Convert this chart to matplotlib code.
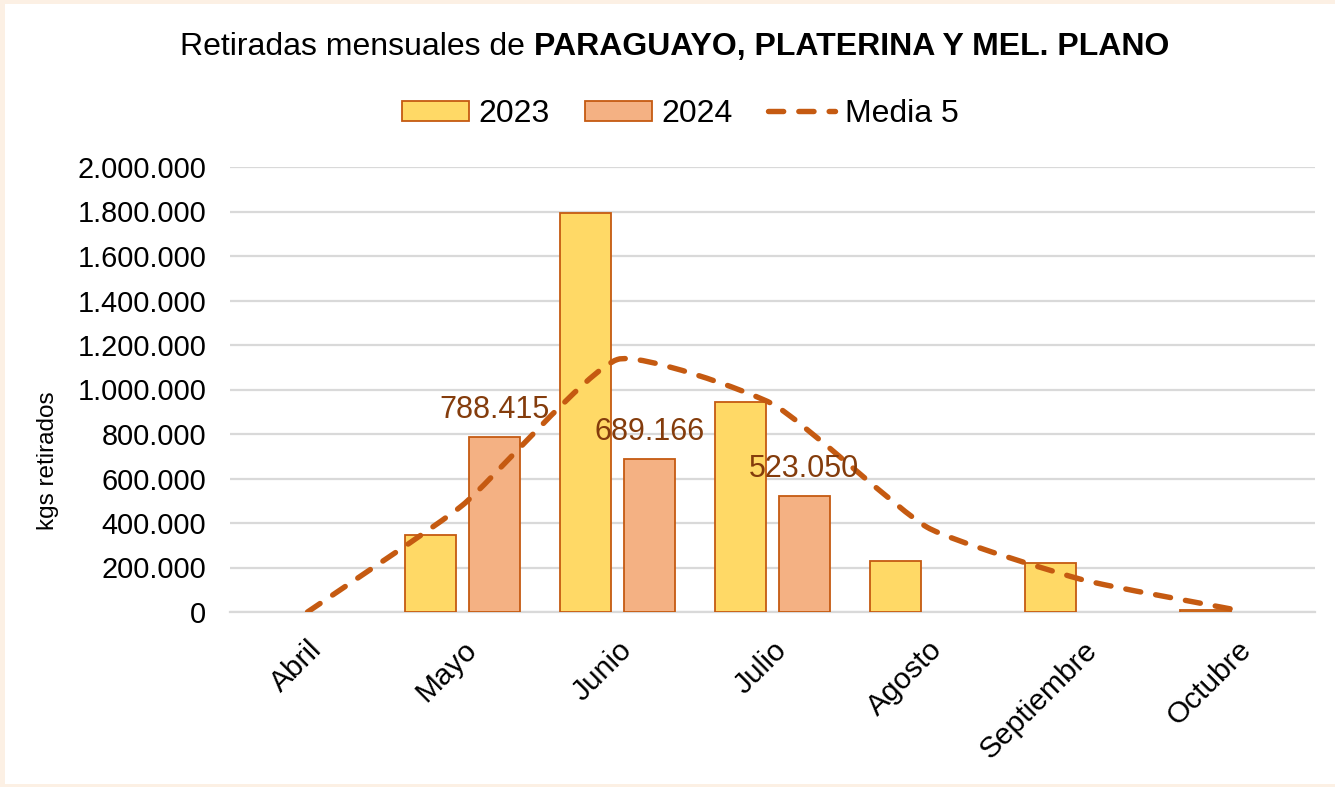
import matplotlib
matplotlib.use("Agg")
import matplotlib.pyplot as plt
from matplotlib.patches import Rectangle
from matplotlib.path import Path
from matplotlib.patches import PathPatch
from matplotlib.lines import Line2D
from matplotlib.ticker import FuncFormatter
import numpy as np

months = ["Abril", "Mayo", "Junio", "Julio", "Agosto", "Septiembre", "Octubre"]
nan = np.nan
vals_2023 = [nan, 348000, 1795000, 945000, 230000, 222000, 8000]
vals_2024 = [nan, 788415, 689166, 523050, nan, nan, nan]
media_5 = [0, 480000, 1135000, 935000, 380000, 145000, 8000]
labels_2024 = {1: "788.415", 2: "689.166", 3: "523.050"}

c23 = "#FFD966"
c24 = "#F4B183"
edge = "#C55A11"
line_c = "#C55A11"
lab_c = "#843C0C"

plt.rcParams["font.family"] = ["Liberation Sans", "DejaVu Sans"]

fig = plt.figure(figsize=(13.35, 7.87), dpi=100)
fig.patch.set_facecolor("#FCF0E4")
fig.patches.append(Rectangle((5 / 1335, 3 / 787), 1.0, 780 / 787, transform=fig.transFigure,
                             facecolor="white", edgecolor="none", zorder=-10))

ax = fig.add_axes([230 / 1335, 175 / 787, 1085 / 1335, 445 / 787])
ax.set_facecolor("none")
ax.set_zorder(2)

x = np.arange(len(months))
w = 0.33
off = 0.206
ax.bar(x - off, vals_2023, w, color=c23, edgecolor=edge, linewidth=1.3, zorder=3, label="2023")
ax.bar(x + off, vals_2024, w, color=c24, edgecolor=edge, linewidth=1.3, zorder=3, label="2024")

ax.set_xlim(-0.5, len(months) - 0.5)
ax.set_ylim(0, 2000000)

# lightly smoothed line: tangent from neighbours, scaled by segment lengths on screen
k = 1 / 6
pts = np.column_stack([x, media_5]).astype(float)
scr = ax.transData.transform(pts)
n = len(pts)
seg = np.hypot(*np.diff(scr, axis=0).T)
verts = [pts[0]]
codes = [Path.MOVETO]
for i in range(n - 1):
    p1, p2 = pts[i], pts[i + 1]
    if i == 0:
        c1 = p1 + (p2 - p1) * k
    else:
        t = pts[i + 1] - pts[i - 1]
        c1 = p1 + t * seg[i] / (seg[i - 1] + seg[i]) * k
    if i + 1 == n - 1:
        c2 = p2 - (p2 - p1) * k
    else:
        t = pts[i + 2] - pts[i]
        c2 = p2 - t * seg[i] / (seg[i] + seg[i + 1]) * k
    verts += [c1, c2, p2]
    codes += [Path.CURVE4] * 3
pp = PathPatch(Path(verts, codes), facecolor="none", edgecolor=line_c, linewidth=3.9,
               linestyle=(0, (2.8, 2.8)), capstyle="round", zorder=4)
ax.add_patch(pp)

for i, t in labels_2024.items():
    ax.annotate(t, (x[i] + off, vals_2024[i]), xytext=(0, 27), textcoords="offset pixels",
                ha="center", va="center", fontsize=22, color=lab_c, zorder=5)

ax.set_yticks(np.arange(0, 2000001, 200000))
ax.yaxis.set_major_formatter(FuncFormatter(lambda v, p: f"{int(v):,}".replace(",", ".")))
ax.set_xticks(x)
ax.set_xticklabels(months, rotation=45, ha="right", rotation_mode="anchor")
ax.tick_params(axis="both", length=0, colors="#000000")
ax.tick_params(axis="y", pad=17, labelsize=20.8)
ax.tick_params(axis="x", pad=17, labelsize=21.5)
ax.grid(axis="y", color="#D9D9D9", linewidth=1.6, zorder=0)
ax.set_axisbelow(True)
for s in ["top", "right", "left"]:
    ax.spines[s].set_visible(False)
ax.spines["bottom"].set_color("#D9D9D9")
ax.spines["bottom"].set_linewidth(1.6)

ax.set_ylabel("kgs retirados", fontsize=17.5)
ax.yaxis.set_label_coords(-0.158, 0.34)

handles = [Rectangle((0, 0), 1, 1, facecolor=c23, edgecolor=edge, linewidth=1.3),
           Rectangle((0, 0), 1, 1, facecolor=c24, edgecolor=edge, linewidth=1.3),
           Line2D([0], [0], color=line_c, linewidth=3.9, linestyle=(0, (2.8, 2.8)),
                  dash_capstyle="round")]
fig.legend(handles, ["2023", "2024", "Media 5"], loc="center", bbox_to_anchor=(680 / 1335, 1 - 114 / 787),
           ncol=3, frameon=False, fontsize=23, handlelength=2.1, handleheight=0.6,
           columnspacing=1.1, handletextpad=0.3)

# title: regular + bold part
r = fig.canvas.get_renderer()
t1 = fig.text(0, 1 - 47 / 787, "Retiradas mensuales de ", fontsize=23, va="center", ha="left")
t2 = fig.text(0, 1 - 47 / 787, "PARAGUAYO, PLATERINA Y MEL. PLANO", fontsize=23, va="center",
              ha="left", fontweight="bold")
w1 = t1.get_window_extent(r).width
w2 = t2.get_window_extent(r).width
x0 = 675 - (w1 + w2) / 2
t1.set_x(x0 / 1335)
t2.set_x((x0 + w1) / 1335)

fig.savefig("out.png", dpi=100, facecolor=fig.get_facecolor())
